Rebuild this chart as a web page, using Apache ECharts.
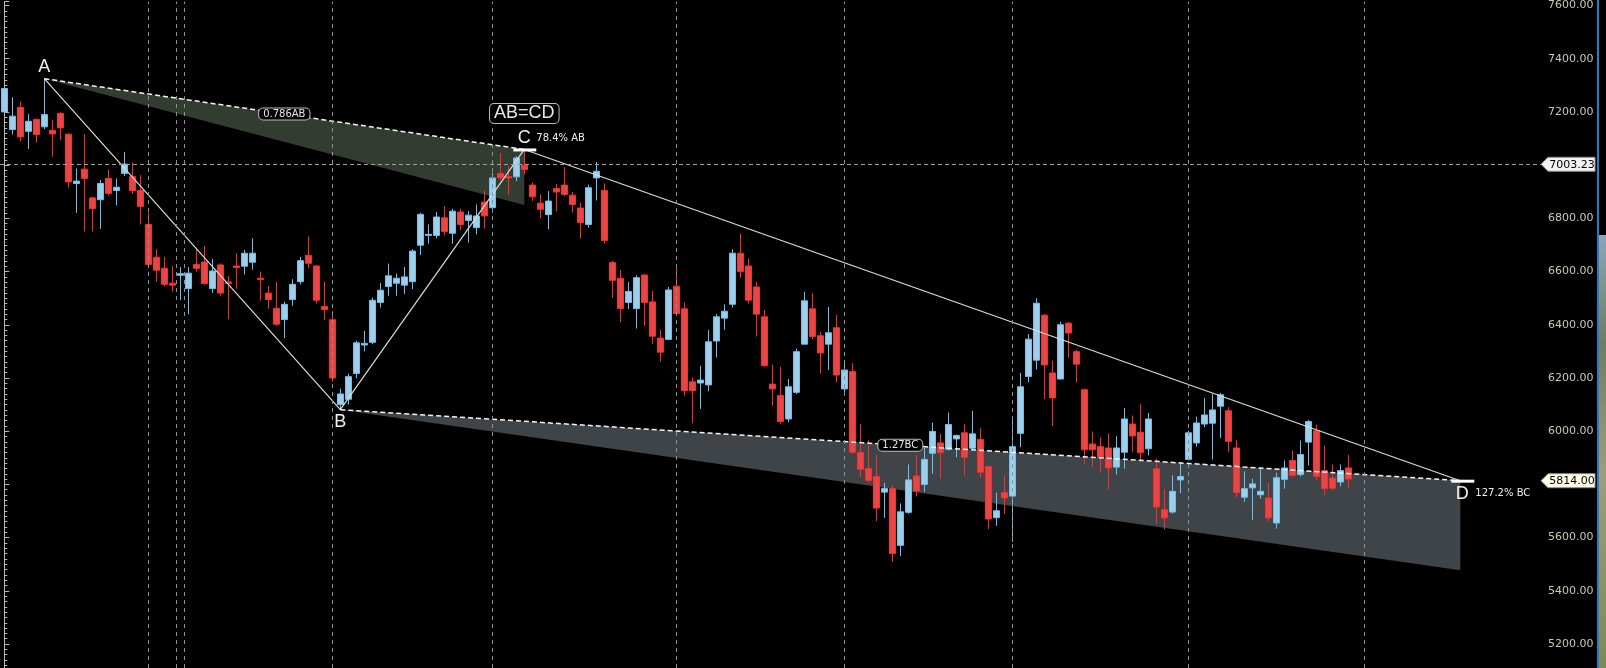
<!DOCTYPE html>
<html>
<head>
<meta charset="utf-8">
<script src="https://cdn.jsdelivr.net/npm/echarts@6/dist/echarts.min.js"></script>
<style>
  html, body { margin: 0; padding: 0; background: #000; }
  #main { width: 1606px; height: 668px; }
</style>
</head>
<body>
<div id="main"></div>
<script>
// candles: [open, close, low, high], one per bar
const candles = [
  [7200, 7288, 7192, 7300], [7134, 7184, 7115, 7255], [7217, 7106, 7090, 7240], [7127, 7165, 7061, 7192],
  [7172, 7115, 7084, 7175], [7144, 7190, 7136, 7325], [7131, 7117, 7031, 7171], [7194, 7140, 7094, 7199],
  [7116, 6937, 6915, 7120], [6931, 6940, 6821, 6987], [6985, 6950, 6750, 7116], [6877, 6837, 6750, 6880],
  [6870, 6931, 6761, 6944], [6950, 6894, 6886, 6984], [6905, 6917, 6849, 6950], [6969, 7004, 6959, 7049],
  [6957, 6904, 6892, 7010], [6905, 6845, 6777, 6962], [6777, 6627, 6615, 6821], [6654, 6605, 6562, 6684],
  [6612, 6552, 6544, 6655], [6556, 6549, 6525, 6621], [6586, 6592, 6492, 6617], [6536, 6594, 6440, 6617],
  [6627, 6612, 6600, 6684], [6636, 6555, 6550, 6696], [6536, 6602, 6520, 6647], [6625, 6519, 6509, 6631],
  [6561, 6555, 6421, 6584], [6621, 6615, 6536, 6669], [6620, 6669, 6589, 6681], [6635, 6669, 6607, 6725],
  [6575, 6570, 6491, 6600], [6519, 6495, 6460, 6546], [6462, 6402, 6396, 6561], [6420, 6477, 6350, 6487],
  [6495, 6552, 6471, 6571], [6562, 6641, 6552, 6655], [6661, 6631, 6612, 6732], [6621, 6492, 6480, 6624],
  [6469, 6457, 6417, 6562], [6419, 6200, 6186, 6452], [6100, 6140, 6081, 6160], [6120, 6205, 6100, 6216],
  [6217, 6332, 6199, 6340], [6324, 6330, 6300, 6377], [6334, 6492, 6327, 6502], [6484, 6530, 6465, 6557],
  [6544, 6584, 6509, 6630], [6556, 6575, 6509, 6592], [6549, 6580, 6515, 6617], [6562, 6677, 6534, 6684],
  [6699, 6815, 6662, 6821], [6736, 6740, 6705, 6777], [6736, 6805, 6725, 6824], [6802, 6751, 6736, 6846],
  [6744, 6827, 6705, 6836], [6824, 6777, 6755, 6836], [6792, 6812, 6709, 6827], [6765, 6809, 6740, 6852],
  [6861, 6809, 6761, 6905], [6840, 6952, 6821, 6971], [6969, 6952, 6942, 7046], [6957, 6952, 6890, 6996],
  [6956, 7027, 6940, 7034], [7000, 6984, 6965, 7059], [6925, 6881, 6865, 6934], [6857, 6834, 6800, 6890],
  [6814, 6865, 6759, 6902], [6912, 6899, 6827, 6930], [6925, 6890, 6884, 6992], [6887, 6852, 6821, 6899],
  [6839, 6784, 6724, 6859], [6777, 6915, 6765, 6927], [6952, 6977, 6867, 7012], [6905, 6717, 6705, 6931],
  [6634, 6567, 6502, 6640], [6575, 6461, 6409, 6606], [6484, 6525, 6459, 6561], [6461, 6577, 6386, 6586],
  [6587, 6484, 6396, 6592], [6486, 6357, 6327, 6527], [6350, 6297, 6262, 6381], [6345, 6531, 6342, 6542],
  [6545, 6442, 6440, 6621], [6460, 6152, 6134, 6484], [6186, 6152, 6030, 6202], [6181, 6192, 6084, 6246],
  [6174, 6336, 6150, 6381], [6339, 6430, 6277, 6440], [6425, 6451, 6381, 6477], [6477, 6669, 6465, 6684],
  [6669, 6600, 6577, 6742], [6621, 6492, 6480, 6649], [6542, 6440, 6356, 6561], [6430, 6246, 6242, 6456],
  [6177, 6159, 6096, 6250], [6134, 6036, 6027, 6242], [6046, 6167, 6034, 6196], [6146, 6299, 6140, 6310],
  [6327, 6490, 6327, 6524], [6460, 6356, 6346, 6519], [6359, 6294, 6217, 6374], [6327, 6370, 6230, 6467],
  [6389, 6211, 6184, 6437], [6159, 6230, 6140, 6262], [6224, 5921, 5915, 6256], [5920, 5857, 5827, 6027],
  [5860, 5815, 5805, 5967], [5830, 5711, 5662, 5909], [5771, 5785, 5674, 5806], [5785, 5540, 5509, 5796],
  [5571, 5697, 5531, 5729], [5695, 5817, 5690, 5875], [5832, 5775, 5755, 5912], [5800, 5894, 5771, 5937],
  [5917, 5999, 5840, 6032], [5956, 5919, 5821, 5990], [5932, 6025, 5927, 6070], [5971, 5984, 5902, 5987],
  [5994, 5902, 5834, 6027], [5936, 5990, 5931, 6077], [5969, 5846, 5824, 6012], [5867, 5670, 5632, 5871],
  [5675, 5701, 5644, 5769], [5770, 5749, 5690, 5834], [5756, 5942, 5584, 6056], [5992, 6167, 5940, 6219],
  [6206, 6346, 6184, 6365], [6267, 6481, 6232, 6500], [6436, 6249, 6121, 6440], [6219, 6125, 6019, 6265],
  [6196, 6400, 6194, 6411], [6406, 6369, 6277, 6410], [6299, 6252, 6184, 6306], [6156, 5930, 5877, 6160],
  [5952, 5930, 5865, 5999], [5942, 5902, 5844, 5977], [5937, 5862, 5781, 5992], [5865, 5937, 5837, 5981],
  [5921, 6046, 5859, 6087], [6027, 5982, 5921, 6059], [5996, 5919, 5890, 6102], [5934, 6046, 5909, 6069],
  [5859, 5715, 5652, 5896], [5705, 5674, 5631, 5781], [5696, 5774, 5690, 5834], [5817, 5830, 5767, 5884],
  [5894, 5994, 5890, 6002], [5956, 6031, 5942, 6055], [6027, 6061, 6015, 6125], [6030, 6080, 5894, 6140],
  [6094, 6137, 5974, 6144], [6077, 5962, 5921, 6090], [5937, 5769, 5752, 5967], [5752, 5784, 5734, 5849],
  [5787, 5802, 5667, 5821], [5761, 5774, 5746, 5862], [5749, 5674, 5661, 5806], [5655, 5825, 5634, 5844],
  [5819, 5862, 5784, 5890], [5890, 5834, 5827, 5927], [5837, 5912, 5830, 5965], [5959, 6036, 5871, 6042],
  [6002, 5831, 5815, 6025], [5852, 5784, 5759, 5946], [5824, 5786, 5777, 5875], [5809, 5852, 5792, 5875],
  [5862, 5820, 5786, 5911]
];

// period separators (bar positions of the dashed verticals)
const separators = [18, 21.5, 22.5, 41, 61, 84, 105, 126, 148, 170];

// AB=CD pattern pivots
const pivotNames = ["A", "B", "C", "D"];
const pivotX = [5, 42, 65, 182];
const pivotY = [7325, 6081, 7059, 5814];

// shaded fans
const fanAC = [[5, 7325], [65, 7059], [65, 6850]];
const fanBD = [[42, 6081], [182, 5814], [182, 5477]];

const lastPrice = 7003.23;
const targetPrice = 5814;

const chart = echarts.init(document.getElementById("main"));

const fanSeries = (pts, fill) => ({
  type: "custom",
  silent: true,
  clip: false,
  data: [0],
  renderItem: function (params, api) {
    return {
      type: "polygon",
      shape: { points: pts.map((p) => api.coord(p)) },
      style: { fill: fill },
    };
  },
});

const pivotPts = pivotX.map((x, i) => [x, pivotY[i]]);

let option = {
  backgroundColor: "#000",
  animation: false,
  textStyle: { fontFamily: "DejaVu Sans" },
  grid: { left: 0, right: 65, top: 0, bottom: 0 },
  xAxis: {
    type: "value",
    min: -0.54,
    max: 192.085,
    show: false,
    splitLine: { show: false },
  },
  yAxis: {
    type: "value",
    position: "right",
    min: 5110,
    max: 7615,
    minInterval: 200,
    maxInterval: 200,
    splitLine: { show: false },
    axisLine: { show: true, lineStyle: { color: "#b9b9a6", width: 1 } },
    axisTick: { show: true, length: 5, lineStyle: { color: "#b9b9a6" } },
    minorTick: { show: true, splitNumber: 10, length: 3, lineStyle: { color: "#b9b9a6" } },
    axisLabel: {
      show: true,
      margin: 7,
      color: "#c9c9b2",
      fontSize: 11,
      fontFamily: "DejaVu Sans",
      showMinLabel: false,
      showMaxLabel: false,
      formatter: (v) => v.toFixed(2),
    },
  },
  series: [
    {
      type: "candlestick",
      barWidth: 6,
      data: candles.map((c, i) => [i, c[0], c[1], c[2], c[3]]),
      itemStyle: {
        color: "#a2cde3",
        color0: "#de4949",
        borderColor: "#6cc0f0",
        borderColor0: "#ff2b2b",
        borderWidth: 1,
      },
      markLine: {
        silent: true,
        symbol: "none",
        label: { show: false },
        data: separators
          .map((v) => ({ xAxis: v, lineStyle: { color: "#8f8f8f", type: [4, 4], width: 1 } }))
          .concat([{ yAxis: lastPrice, lineStyle: { color: "#a0a0a0", type: [4, 3], width: 1 } }]),
      },
    },
    fanSeries(fanAC, "rgba(186, 222, 182, 0.27)"),
    fanSeries(fanBD, "rgba(190, 205, 222, 0.33)"),
    {
      type: "line",
      silent: true,
      symbol: "none",
      data: pivotPts,
      lineStyle: { color: "#dcdcd4", width: 1.2 },
    },
    {
      type: "line",
      silent: true,
      symbol: "none",
      data: [pivotPts[0], pivotPts[2]],
      lineStyle: { color: "#f4f4f4", width: 1.5, type: [5, 3] },
    },
    {
      type: "line",
      silent: true,
      symbol: "none",
      data: [pivotPts[1], pivotPts[3]],
      lineStyle: { color: "#f4f4f4", width: 1.5, type: [5, 3] },
    },
  ],
};
chart.setOption(option);

// annotations placed through the chart's own scales
const px = (x, y) => chart.convertToPixel({ xAxisIndex: 0, yAxisIndex: 0 }, [x, y]);
const P = pivotPts.map((p) => px(p[0], p[1]));
const labelFont = '18px "Liberation Sans"';
const smallFont = '10px "DejaVu Sans"';
const axisX = chart.getWidth() - 65;

const boxLabel = (x, y, text, font) => ({
  type: "text",
  x: x,
  y: y,
  z: 100,
  style: {
    text: text,
    font: font,
    fill: "#e6e6e6",
    align: "center",
    verticalAlign: "middle",
    backgroundColor: "#000",
    borderColor: "#bdbdbd",
    borderWidth: 1,
    borderRadius: 4,
    padding: [1, 4, 0, 4],
  },
});

const priceTag = (value, bg) => {
  const y = px(0, value)[1];
  return [
    {
      type: "polygon",
      z: 100,
      shape: { points: [[axisX, y], [axisX + 7, y - 7], [axisX + 54, y - 7], [axisX + 54, y + 7], [axisX + 7, y + 7]] },
      style: { fill: bg, stroke: "#8c8c8c", lineWidth: 1 },
    },
    {
      type: "text",
      z: 101,
      x: axisX + 31,
      y: y + 0.5,
      style: { text: value.toFixed(2), font: '11px "DejaVu Sans"', fill: "#000", align: "center", verticalAlign: "middle" },
    },
  ];
};

const letter = (i, dx, dy) => ({
  type: "text",
  x: P[i][0] + dx,
  y: P[i][1] + dy,
  z: 100,
  style: { text: pivotNames[i], font: labelFont, fill: "#f0f0ea", align: "center", verticalAlign: "middle" },
});

const graphics = [
  letter(0, 0, -12),
  letter(1, 0, 12),
  letter(2, 0, -11),
  letter(3, 2, 13),
  { type: "rect", z: 100, shape: { x: P[2][0] - 11, y: P[2][1] - 1, width: 23, height: 3 }, style: { fill: "#ffffff" } },
  { type: "rect", z: 100, shape: { x: P[3][0] - 9, y: P[3][1] - 1, width: 23, height: 3 }, style: { fill: "#ffffff" } },
  {
    type: "text", z: 100, x: P[2][0] + 12, y: P[2][1] - 11,
    style: { text: "78.4% AB", font: smallFont, fill: "#f0f0f0", align: "left", verticalAlign: "middle" },
  },
  {
    type: "text", z: 100, x: P[3][0] + 15, y: P[3][1] + 13,
    style: { text: "127.2% BC", font: smallFont, fill: "#f0f0f0", align: "left", verticalAlign: "middle" },
  },
  boxLabel(P[2][0], P[2][1] - 36, "AB=CD", '18px "Liberation Sans"'),
  boxLabel((P[0][0] + P[2][0]) / 2, (P[0][1] + P[2][1]) / 2, "0.786AB", smallFont),
  boxLabel((P[1][0] + P[3][0]) / 2, (P[1][1] + P[3][1]) / 2, "1.27BC", smallFont),
  // window edge and desktop strip
  { type: "rect", z: 90, shape: { x: 1597, y: 0, width: 2, height: 668 }, style: { fill: "#1c7fd6" } },
  {
    type: "rect", z: 90, shape: { x: 1599, y: 235, width: 7, height: 433 },
    style: {
      fill: new echarts.graphic.LinearGradient(0, 0, 0, 1, [
        { offset: 0, color: "#8fa6b4" },
        { offset: 0.25, color: "#6f7d5e" },
        { offset: 0.55, color: "#a09c78" },
        { offset: 1, color: "#7e8a52" },
      ]),
    },
  },
]
  .concat(priceTag(lastPrice, "#f3f3f3"))
  .concat(priceTag(targetPrice, "#fffde6"));

chart.setOption({ graphic: graphics });
</script>
</body>
</html>
